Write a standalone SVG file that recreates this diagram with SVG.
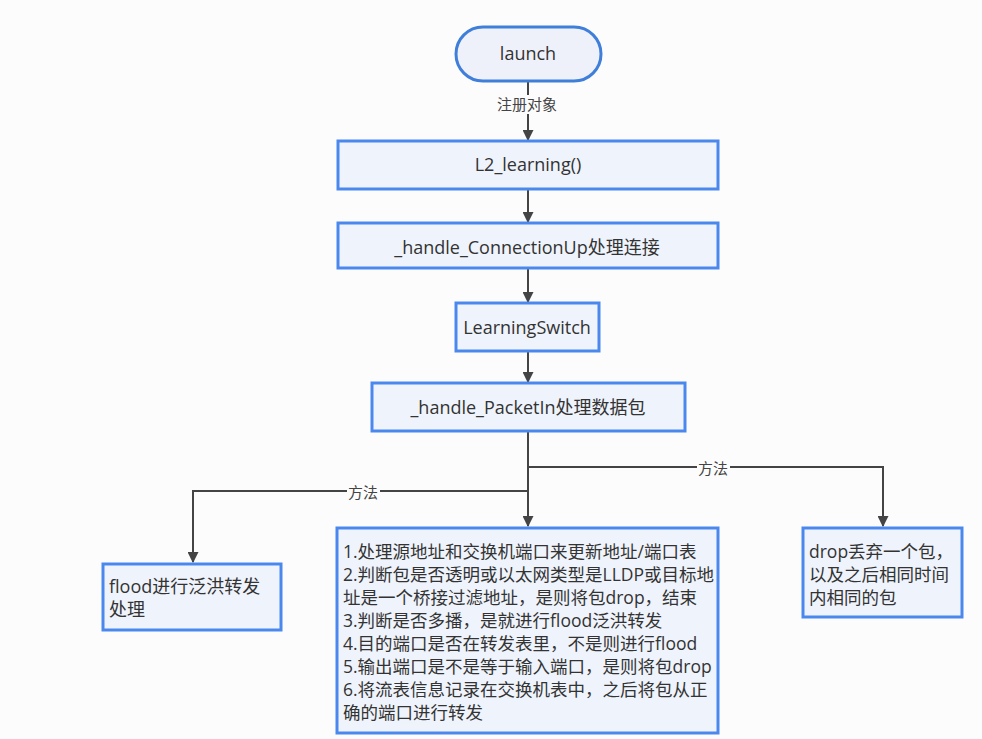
<svg xmlns="http://www.w3.org/2000/svg" width="982" height="739" viewBox="0 0 982 739">
<defs>
<style>
.box{fill:#eff3fc;stroke:#4a88ee;stroke-width:3}
.t{font-family:"Open Sans","Noto Sans CJK SC",sans-serif;font-size:18px;fill:#333}
.m{font-size:17.5px}
.c{text-anchor:middle}
.lbl{font-family:"Noto Sans CJK SC",sans-serif;font-size:15px;fill:#444;text-anchor:middle}
.edge{fill:none;stroke:#444;stroke-width:2}
.lb{fill:#fcfcfd}
</style>
<marker id="ah" viewBox="0 0 10 10" refX="9" refY="5" markerWidth="5.5" markerHeight="5.5" orient="auto">
<path d="M0,0 L10,5 L0,10 z" fill="#444"/>
</marker>
</defs>
<rect width="982" height="739" fill="#fcfcfd"/>
<g id="connectors">
<path class="edge" d="M528,81 V140" marker-end="url(#ah)"/>
<rect class="lb" x="495" y="95" width="64" height="19"/>
<text class="lbl" x="527" y="110">注册对象</text>
<path class="edge" d="M528,189 V222" marker-end="url(#ah)"/>
<path class="edge" d="M528,267 V302" marker-end="url(#ah)"/>
<path class="edge" d="M528,351 V382" marker-end="url(#ah)"/>
<path class="edge" d="M528,431 V526" marker-end="url(#ah)"/>
<path class="edge" d="M528,467 H883 V526" marker-end="url(#ah)"/>
<path class="edge" d="M528,491 H193 V562" marker-end="url(#ah)"/>
<rect class="lb" x="697" y="460" width="33" height="18"/>
<text class="lbl" x="713" y="474">方法</text>
<rect class="lb" x="347" y="484" width="33" height="18"/>
<text class="lbl" x="363" y="498">方法</text>
</g>
<g id="launch">
<rect x="456" y="27" width="145" height="54" rx="27" ry="27" fill="#eff1fa" stroke="#3f7fd9" stroke-width="3"/>
<text class="t c" x="528" y="60">launch</text>
</g>
<g id="l2learning">
<rect class="box" x="338" y="141" width="380" height="48"/>
<text class="t c" x="528" y="171">L2_learning()</text>
</g>
<g id="connectionup">
<rect class="box" x="338" y="223" width="380" height="45"/>
<text class="t c" x="527" y="254">_handle_ConnectionUp处理连接</text>
</g>
<g id="learningswitch">
<rect class="box" x="456" y="303" width="143" height="48"/>
<text class="t c" x="527" y="334">LearningSwitch</text>
</g>
<g id="packetin">
<rect class="box" x="372" y="383" width="313" height="48"/>
<text class="t c" x="528" y="414">_handle_PacketIn处理数据包</text>
</g>
<g id="flood">
<rect class="box" x="103" y="564" width="178" height="66"/>
<text class="t" x="109" y="593">flood进行泛洪转发</text>
<text class="t" x="109" y="616">处理</text>
</g>
<g id="process">
<rect class="box" x="337" y="528" width="381" height="205"/>
<text class="t m" x="343" y="558">1.处理源地址和交换机端口来更新地址/端口表</text>
<text class="t m" x="343" y="581">2.判断包是否透明或以太网类型是LLDP或目标地</text>
<text class="t m" x="343" y="604">址是一个桥接过滤地址，是则将包drop，结束</text>
<text class="t m" x="343" y="627">3.判断是否多播，是就进行flood泛洪转发</text>
<text class="t m" x="343" y="650">4.目的端口是否在转发表里，不是则进行flood</text>
<text class="t m" x="343" y="673">5.输出端口是不是等于输入端口，是则将包drop</text>
<text class="t m" x="343" y="696">6.将流表信息记录在交换机表中，之后将包从正</text>
<text class="t m" x="343" y="719">确的端口进行转发</text>
</g>
<g id="drop">
<rect class="box" x="803" y="528" width="159" height="89"/>
<text class="t m" x="809" y="558">drop丢弃一个包，</text>
<text class="t m" x="809" y="581">以及之后相同时间</text>
<text class="t m" x="809" y="604">内相同的包</text>
</g>
</svg>
